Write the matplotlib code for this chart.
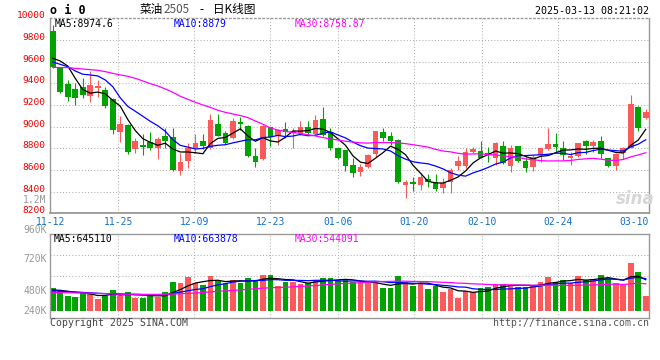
import numpy as np
import matplotlib
matplotlib.use("Agg")
import matplotlib.pyplot as plt
from matplotlib import transforms

dates = ['11-12', '11-13', '11-14', '11-15', '11-18', '11-19', '11-20', '11-21', '11-22', '11-25',
         '11-26', '11-27', '11-28', '11-29', '12-02', '12-03', '12-04', '12-05', '12-06', '12-09',
         '12-10', '12-11', '12-12', '12-13', '12-16', '12-17', '12-18', '12-19', '12-20', '12-23',
         '12-24', '12-25', '12-26', '12-27', '12-30', '12-31', '01-02', '01-03', '01-06', '01-07',
         '01-08', '01-09', '01-10', '01-13', '01-14', '01-15', '01-16', '01-17', '01-20', '01-21',
         '01-22', '01-23', '01-24', '01-27', '02-05', '02-06', '02-07', '02-10', '02-11', '02-12',
         '02-13', '02-14', '02-17', '02-18', '02-19', '02-20', '02-21', '02-24', '02-25', '02-26',
         '02-27', '02-28', '03-03', '03-04', '03-05', '03-06', '03-07', '03-10', '03-11', '03-12']

opens = [9886, 9538, 9394, 9348, 9369, 9283, 9354, 9338, 9255, 8954,
         9015, 8791, 8831, 8855, 8806, 8914, 8908, 8594, 8686, 8800,
         8868, 8800, 9025, 8938, 8892, 9040, 9006, 8732, 8698, 9000,
         8914, 8978, 8938, 8938, 9000, 8929, 9071, 8948, 8800, 8785,
         8646, 8585, 8631, 8748, 8948, 8917, 8877, 8462, 8492, 8462,
         8517, 8486, 8437, 8492, 8640, 8640, 8769, 8775, 8760, 8714,
         8822, 8637, 8822, 8686, 8625, 8738, 8791, 8840, 8800, 8714,
         8732, 8868, 8825, 8868, 8708, 8640, 8754, 8806, 9178, 9083]
highs = [9938, 9545, 9431, 9400, 9446, 9514, 9431, 9369, 9268, 9102,
         9020, 8898, 8932, 8948, 8908, 8985, 8985, 8760, 8846, 8929,
         8929, 9117, 9117, 8963, 9077, 9092, 9015, 8800, 9015, 9000,
         8975, 9046, 8985, 9052, 9052, 9108, 9185, 8985, 8806, 8785,
         8708, 8656, 8748, 8960, 8985, 8954, 8886, 8508, 8538, 8569,
         8563, 8560, 8523, 8621, 8732, 8800, 8815, 8868, 8815, 8862,
         8868, 8831, 8822, 8723, 8738, 8806, 8985, 8938, 8868, 8763,
         8852, 8877, 8877, 8917, 8708, 8754, 8815, 9292, 9191, 9160]
lows = [9538, 9315, 9240, 9200, 9262, 9225, 9277, 9169, 8929, 8855,
        8745, 8754, 8738, 8785, 8702, 8800, 8594, 8554, 8615, 8754,
        8794, 8794, 8917, 8840, 8886, 8969, 8723, 8625, 8692, 8825,
        8831, 8898, 8800, 8923, 8929, 8923, 8917, 8785, 8702, 8594,
        8532, 8545, 8615, 8723, 8868, 8831, 8483, 8345, 8409, 8415,
        8446, 8409, 8391, 8391, 8600, 8615, 8754, 8708, 8677, 8646,
        8652, 8578, 8677, 8585, 8594, 8677, 8785, 8769, 8692, 8646,
        8723, 8745, 8769, 8714, 8631, 8600, 8702, 8800, 8960, 9071]
closes = [9554, 9323, 9277, 9268, 9292, 9385, 9375, 9194, 8969, 9022,
          8769, 8868, 8815, 8800, 8886, 8868, 8600, 8677, 8800, 8852,
          8822, 9062, 8917, 8846, 9055, 9022, 8732, 8671, 9009, 8908,
          8969, 8954, 8960, 9000, 8938, 9062, 8923, 8800, 8714, 8640,
          8575, 8631, 8738, 8960, 8898, 8868, 8492, 8486, 8471, 8532,
          8492, 8425, 8477, 8600, 8683, 8769, 8794, 8714, 8745, 8852,
          8668, 8806, 8686, 8615, 8723, 8800, 8840, 8815, 8738, 8732,
          8846, 8825, 8855, 8745, 8640, 8745, 8800, 9209, 8985, 9132]

ma5 = [9631, 9606, 9560, 9446, 9343, 9309, 9319, 9303, 9243, 9189,
       9066, 8964, 8889, 8855, 8828, 8847, 8794, 8766, 8766, 8759,
       8750, 8843, 8891, 8900, 8940, 8980, 8914, 8865, 8898, 8868,
       8858, 8902, 8960, 8958, 8964, 8983, 8977, 8945, 8887, 8828,
       8730, 8672, 8660, 8709, 8760, 8819, 8791, 8741, 8643, 8570,
       8495, 8481, 8479, 8505, 8535, 8591, 8665, 8712, 8741, 8775,
       8755, 8757, 8751, 8725, 8700, 8726, 8733, 8759, 8783, 8785,
       8794, 8791, 8799, 8801, 8782, 8762, 8757, 8828, 8876, 8975]
ma10 = [9597, 9575, 9554, 9514, 9484, 9477, 9468, 9431, 9369, 9266,
        9187, 9142, 9096, 9049, 9008, 8957, 8879, 8827, 8811, 8794,
        8799, 8818, 8828, 8833, 8850, 8865, 8879, 8878, 8899, 8904,
        8919, 8908, 8913, 8928, 8916, 8920, 8939, 8952, 8923, 8896,
        8857, 8824, 8802, 8798, 8794, 8775, 8732, 8700, 8676, 8665,
        8657, 8636, 8610, 8574, 8553, 8543, 8573, 8596, 8623, 8655,
        8673, 8711, 8732, 8733, 8737, 8740, 8745, 8755, 8754, 8742,
        8760, 8762, 8779, 8792, 8784, 8778, 8774, 8814, 8838, 8879]
ma30 = [9548, 9545, 9545, 9538, 9532, 9526, 9520, 9508, 9492, 9477,
        9465, 9446, 9422, 9397, 9375, 9348, 9317, 9280, 9252, 9225,
        9200, 9178, 9151, 9132, 9117, 9102, 9083, 9052, 9022, 8988,
        8968, 8956, 8946, 8937, 8925, 8914, 8899, 8886, 8877, 8865,
        8858, 8850, 8848, 8853, 8853, 8853, 8850, 8843, 8833, 8822,
        8811, 8790, 8775, 8767, 8754, 8746, 8748, 8749, 8741, 8739,
        8729, 8724, 8715, 8702, 8695, 8686, 8683, 8684, 8684, 8688,
        8697, 8703, 8707, 8700, 8691, 8687, 8697, 8721, 8739, 8759]

# volume in thousands
volumes = [478, 416, 312, 291, 402, 347, 256, 312, 437, 305,
           402, 277, 277, 333, 291, 402, 610, 589, 714, 589,
           541, 728, 624, 575, 644, 575, 693, 644, 748, 748,
           520, 610, 610, 561, 589, 644, 693, 679, 631, 638,
           596, 575, 575, 575, 471, 471, 721, 610, 527, 575,
           457, 520, 395, 450, 277, 423, 388, 485, 506, 561,
           561, 541, 506, 506, 527, 610, 714, 610, 644, 582,
           728, 644, 665, 748, 686, 575, 541, 1005, 811, 319]
vma5 = [437, 430, 409, 388, 380, 354, 322, 322, 351, 331,
        342, 347, 340, 319, 316, 316, 383, 445, 521, 581,
        609, 632, 639, 611, 622, 629, 622, 626, 661, 682,
        671, 654, 647, 610, 578, 603, 619, 633, 647, 657,
        647, 624, 603, 592, 558, 533, 563, 570, 560, 581,
        578, 538, 495, 479, 420, 413, 387, 405, 416, 473,
        500, 531, 535, 535, 528, 538, 573, 593, 621, 632,
        656, 642, 653, 673, 694, 664, 643, 711, 724, 650]
vma10 = [420, 414, 405, 396, 386, 378, 368, 362, 358, 356,
         348, 334, 331, 335, 324, 329, 365, 392, 420, 448,
         462, 507, 542, 566, 602, 619, 627, 633, 636, 652,
         650, 638, 637, 635, 630, 637, 637, 640, 629, 618,
         625, 622, 618, 620, 608, 590, 593, 586, 576, 570,
         556, 550, 532, 520, 500, 496, 462, 450, 448, 446,
         457, 459, 470, 475, 500, 519, 552, 564, 578, 580,
         597, 607, 623, 647, 663, 660, 642, 682, 699, 672]
vma30 = [381, 381, 378, 376, 374, 370, 365, 360, 355, 350,
         348, 347, 346, 345, 345, 348, 352, 358, 365, 374,
         385, 397, 408, 418, 428, 438, 450, 462, 474, 485,
         487, 493, 503, 512, 518, 528, 543, 555, 562, 573,
         579, 589, 599, 607, 613, 615, 619, 620, 614, 613,
         610, 603, 596, 592, 579, 574, 564, 559, 551, 544,
         546, 544, 540, 538, 536, 535, 536, 533, 534, 532,
         536, 539, 542, 547, 555, 558, 552, 565, 575, 566]

date_labels = ['11-12', '11-25', '12-09', '12-23', '01-06', '01-20', '02-10', '02-24', '03-10']
price_ticks = [8200, 8400, 8600, 8800, 9000, 9200, 9400, 9600, 9800, 10000]
vol_labels = ['1.2M', '960K', '720K', '480K', '240K']
price_ma_text = ['MA5:8974.6', 'MA10:8879', 'MA30:8758.87']
vol_ma_text = ['MA5:645110', 'MA10:663878', 'MA30:544091']

RED = '#fa5a5a'
GREEN = '#00a300'
GRID = '#b0b0b0'
FRAME = '#999999'
DATE_BLUE = '#1170cc'
MA_COLORS = ['black', '#0000ff', '#ff00ff']
MONO = 'DejaVu Sans Mono'
CJK = ['Noto Sans CJK SC', 'DejaVu Sans']
DOT = (0, (1, 2))

W, H = 660, 360
fig = plt.figure(figsize=(W / 100, H / 100), dpi=100)
fig.patch.set_facecolor('white')


def box(left, top, right, bottom):
    return [left / W, 1 - bottom / H, (right - left) / W, (bottom - top) / H]


def px_text(x, y, s, **kw):
    kw.setdefault('va', 'center')
    kw.setdefault('family', MONO)
    fig.text(x / W, 1 - y / H, s, **kw)


def px_shift(dx, dy):
    return transforms.ScaledTranslation(dx / 100, dy / 100, fig.dpi_scale_trans)


ax = fig.add_axes(box(50, 18.3, 649.3, 213.3))
axv = fig.add_axes(box(50, 234.3, 649.3, 318.3))

x = np.arange(len(dates))
o = np.array(opens)
c = np.array(closes)
colors = np.where(c > o, RED, GREEN)

# candle spacing and gridline spacing differ slightly in the original
slot, grid_slot, x0, g0 = 7.507, 7.583, 52.7, 50.25
xlim = ((50 - x0) / slot, (649.3 - x0) / slot)


def grid_x(i):
    return (g0 + grid_slot * i - x0) / slot


label_idx = [dates.index(d) for d in date_labels]

for a in (ax, axv):
    a.set_xlim(*xlim)
    a.tick_params(length=0, labelleft=False, labelbottom=False)
    for s in a.spines.values():
        s.set_color(FRAME)
        s.set_linewidth(1)
    for i in label_idx[1:-1]:
        a.axvline(grid_x(i), color=GRID, lw=0.75, ls=DOT, zorder=0)
ax.spines['top'].set_linestyle(DOT)
ax.spines['bottom'].set_linewidth(1.3)

# price panel
ax.set_ylim(price_ticks[0], price_ticks[-1])
for p in price_ticks[1:-1]:
    ax.axhline(p, color=GRID, lw=0.75, ls=DOT, zorder=0)
ax.vlines(x, lows, highs, colors=colors, lw=0.8, zorder=2)
ax.bar(x, np.maximum(np.abs(c - o), 8), bottom=np.minimum(o, c), width=0.75,
       color=colors, linewidth=0, zorder=3)
for series, col in zip([ma5, ma10, ma30], MA_COLORS):
    ax.plot(x, series, color=col, lw=0.9, zorder=4)

ytr = ax.get_yaxis_transform() + px_shift(-4.3, 2.5)
for p in price_ticks:
    ax.text(0, p, str(p), transform=ytr, ha='right', va='center', color='#ee0000',
            family=MONO, fontsize=6.8, clip_on=False)

xtr = transforms.blended_transform_factory(ax.transData, ax.transAxes) + px_shift(0, -8.4)
for i, d in zip(label_idx, date_labels):
    ax.text(grid_x(i), 0, d, transform=xtr, ha='center', va='center', color=DATE_BLUE,
            family=MONO, fontsize=7, clip_on=False)

# volume panel
vlo, vhi = -152, 1594
axv.set_ylim(vlo, vhi)
for f in (0.25, 0.5, 0.75):
    axv.axhline(vlo + (vhi - vlo) * f, color=GRID, lw=0.75, ls=DOT, zorder=0)
axv.bar(x, volumes, width=0.75, color=colors, linewidth=0, zorder=2)
for series, col in zip([vma5, vma10, vma30], MA_COLORS):
    axv.plot(x, series, color=col, lw=0.9, zorder=4)

for lab, y in zip(vol_labels, [200, 230, 259.3, 291, 311]):
    px_text(46.5, y, lab, ha='right', color='#999999', fontsize=7)

# header and legend texts
px_text(50, 11, 'o i 0', fontweight='bold', fontsize=8.5)
px_text(140, 9.5, '菜油', family=CJK, fontsize=8.4)
px_text(163.5, 9.5, '2505', family=CJK, fontsize=8.4, color='#555555')
px_text(199, 9.5, '-', family=CJK, fontsize=8.4)
px_text(213, 9.5, '日K线图', family=CJK, fontsize=8.4)
px_text(649.3, 11.5, '2025-03-13 08:21:02', ha='right', fontsize=7.2)

for s, col, xx in zip(price_ma_text, MA_COLORS, [54.7, 174, 295]):
    px_text(xx, 24, s, color=col, fontsize=7)
for s, col, xx in zip(vol_ma_text, MA_COLORS, [54, 174, 295]):
    px_text(xx, 239, s, color=col, fontsize=7)

px_text(50, 323.5, 'Copyright 2025 SINA.COM', color='#444444', fontsize=7.1)
px_text(649.3, 323.5, 'http://finance.sina.com.cn', ha='right', color='#555555', fontsize=7.1)
px_text(635, 199, 'sina', family='DejaVu Sans', fontsize=12, fontstyle='italic',
        fontweight='bold', color='#d6d6d6', ha='center')

fig.savefig('out.png', dpi=100)
